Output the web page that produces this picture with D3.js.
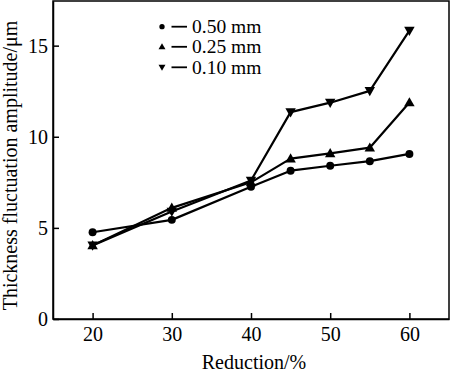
<!DOCTYPE html>
<html>
<head>
<meta charset="utf-8">
<script src="https://cdn.jsdelivr.net/npm/d3@7"></script>
<style>
  html, body { margin: 0; padding: 0; background: #fff; }
  svg { display: block; }
  svg text { font-family: "Liberation Serif", Tinos, "Times New Roman", Times, "Nimbus Roman", "DejaVu Serif", serif !important; }
</style>
</head>
<body>
<svg id="chart" width="450" height="372"></svg>
<script>
const reduction = [20, 30, 40, 45, 50, 55, 60];
const seriesNames = ["0.50 mm", "0.25 mm", "0.10 mm"];
const seriesSymbols = ["circle", "up", "down"];
const values050 = [4.76, 5.44, 7.26, 8.14, 8.41, 8.66, 9.06];
const values025 = [4.04, 6.1, 7.5, 8.8, 9.09, 9.4, 11.88];
const values010 = [4.04, 5.9, 7.6, 11.35, 11.87, 12.52, 15.82];
const xTicks = [20, 30, 40, 50, 60];
const yTicks = [0, 5, 10, 15];
const xTitle = "Reduction/%";
const yTitle = "Thickness fluctuation amplitude/μm";

const series = [values050, values025, values010].map((v, i) => ({
  name: seriesNames[i], symbol: seriesSymbols[i],
  points: reduction.map((r, j) => ({ x: r, y: v[j] }))
}));

const svg = d3.select("#chart");
const pLeft = 53, pRight = 449, pTop = 1, pBottom = 319;
const x = d3.scaleLinear().domain([15, 65]).range([pLeft, pRight]);
const y = d3.scaleLinear().domain([0, 17.45]).range([pBottom, pTop]);

// Frame
svg.append("rect")
  .attr("x", pLeft).attr("y", pTop)
  .attr("width", pRight - pLeft).attr("height", pBottom - pTop)
  .attr("fill", "none").attr("stroke", "#000").attr("stroke-width", 1.5);

// Axes with inward ticks
const xAxis = svg.append("g").attr("transform", `translate(0,${pBottom})`)
  .call(d3.axisBottom(x).tickValues(xTicks).tickSizeInner(-6).tickSizeOuter(0).tickPadding(8));
const yAxis = svg.append("g").attr("transform", `translate(${pLeft},0)`)
  .call(d3.axisLeft(y).tickValues(yTicks).tickSizeInner(-6).tickSizeOuter(0).tickPadding(5));
[xAxis, yAxis].forEach(g => {
  g.attr("font-family", null).attr("font-size", null);
  g.select(".domain").attr("stroke", "#000").attr("stroke-width", 1.5);
  g.selectAll(".tick line").attr("stroke", "#000").attr("stroke-width", 1.5);
  g.selectAll(".tick text").attr("fill", "#000").style("font-size", "20px");
});

// Symbols
const triUp = {
  draw(ctx, size) {
    const s = Math.sqrt(size);
    const h = s * 0.9;
    ctx.moveTo(0, -h * 0.62);
    ctx.lineTo(s * 0.55, h * 0.45);
    ctx.lineTo(-s * 0.55, h * 0.45);
    ctx.closePath();
  }
};
const triDown = {
  draw(ctx, size) {
    const s = Math.sqrt(size);
    const h = s * 0.9;
    ctx.moveTo(0, h * 0.62);
    ctx.lineTo(s * 0.55, -h * 0.45);
    ctx.lineTo(-s * 0.55, -h * 0.45);
    ctx.closePath();
  }
};
function symbolPath(kind, size) {
  const t = kind === "circle" ? d3.symbolCircle : kind === "up" ? triUp : triDown;
  return d3.symbol().type(t).size(size)();
}

const line = d3.line().x(d => x(d.x)).y(d => y(d.y));

series.forEach(s => {
  svg.append("path").datum(s.points)
    .attr("d", line).attr("fill", "none")
    .attr("stroke", "#000").attr("stroke-width", 2.2).attr("stroke-linejoin", "round");
});
series.forEach(s => {
  svg.selectAll(null).data(s.points).enter().append("path")
    .attr("transform", d => `translate(${x(d.x)},${y(d.y)})`)
    .attr("d", symbolPath(s.symbol, s.symbol === "circle" ? 50 : 90))
    .attr("fill", "#000");
});

// Legend
const legendY = [26.7, 46.8, 67.3];
const legend = svg.append("g");
series.forEach((s, i) => {
  const g = legend.append("g").attr("transform", `translate(0,${legendY[i]})`);
  g.append("path").attr("transform", "translate(162,0)")
    .attr("d", symbolPath(s.symbol, s.symbol === "circle" ? 22 : 40)).attr("fill", "#000");
  g.append("line").attr("x1", 171.5).attr("x2", 187).attr("y1", 0).attr("y2", 0)
    .attr("stroke", "#000").attr("stroke-width", 1.8);
  g.append("text").attr("x", 192).attr("y", 6.5)
    .style("font-size", "19.5px").attr("fill", "#000").text(s.name);
});

// Axis titles
svg.append("text").attr("x", (pLeft + pRight) / 2 + 3).attr("y", 369)
  .attr("text-anchor", "middle").style("font-size", "20px").attr("fill", "#000").text(xTitle);
svg.append("text").attr("transform", "translate(17,165.5) rotate(-90)")
  .attr("text-anchor", "middle").style("font-size", "20px").attr("fill", "#000").text(yTitle);
</script>
</body>
</html>
